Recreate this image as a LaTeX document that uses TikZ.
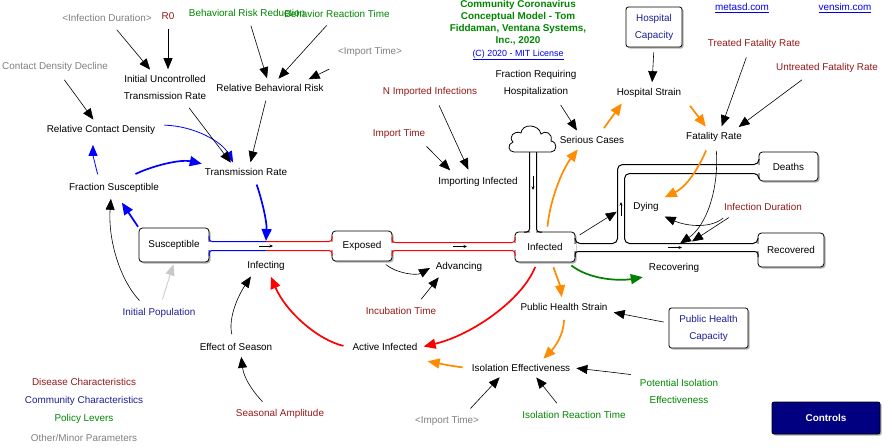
\documentclass[tikz,border=0pt]{standalone}
\usepackage{fontspec}
\setmainfont{Liberation Sans}
\usetikzlibrary{arrows.meta,shadows,calc}
\definecolor{dred}{RGB}{150,25,25}
\definecolor{dgreen}{RGB}{0,135,0}
\definecolor{cgreen}{RGB}{0,128,0}
\definecolor{navyt}{RGB}{30,30,150}
\definecolor{grayt}{RGB}{128,128,128}
\definecolor{lgray}{RGB}{200,200,200}
\definecolor{orng}{RGB}{255,140,0}
\definecolor{linkb}{RGB}{0,0,238}
\definecolor{ctrlfill}{RGB}{0,0,128}
\begin{document}
\begin{tikzpicture}[x=1pt,y=-1pt,
  lbl/.style={font=\fontsize{9.9}{11}\selectfont, inner sep=4pt},
  two/.style={inner sep=4pt, align=center, font=\fontsize{9.9}{17}\selectfont},
  ttl/.style={inner sep=0pt, align=center, text=dgreen, font=\bfseries\fontsize{9.9}{12}\selectfont},
  stock/.style={draw, fill=white, line width=0.8pt, rounded corners=3.5pt, inner sep=0pt,
     drop shadow={shadow xshift=1.6pt, shadow yshift=-1.6pt, fill=black!30, opacity=1},
     font=\fontsize{9.9}{11}\selectfont},
  capbox/.style={stock, rounded corners=2.5pt, align=center, font=\fontsize{9.9}{17}\selectfont},
  ctrl/.style={draw, fill=ctrlfill, line width=0.8pt, rounded corners=2pt, inner sep=0pt,
     drop shadow={shadow xshift=1.6pt, shadow yshift=-1.6pt, fill=black!30, opacity=1},
     text=white, font=\bfseries\fontsize{9.9}{11}\selectfont},
  conn/.style={-{Triangle[length=11pt,width=9pt]}, line width=0.6pt, shorten <=5pt, shorten >=2pt},
  thk/.style={-{Triangle[length=12pt,width=10pt]}, line width=1.7pt, shorten <=5pt, shorten >=2pt},
  valve/.style={-{Stealth[length=3.5pt,width=3pt]}, line width=0.6pt},
  pipe/.style={line width=1pt, rounded corners=3pt}
]
\fill[white] (0,0) rectangle (893,447);
\useasboundingbox (0,0) rectangle (893,447);

% ---------- text nodes ----------
\node[lbl,text=grayt] (infdurG) at (107,18) {<Infection Duration>};
\node[lbl,text=dred] (r0) at (168,16) {R0};
\node[lbl,text=dgreen] (brr) at (247,13) {Behavioral Risk Reduction};
\node[lbl,text=dgreen] (brt) at (337,14) {Behavior Reaction Time};
\node[lbl,text=grayt] (impG1) at (370,52) {<Import Time>};
\node[lbl,text=grayt] (cdd) at (55,67) {Contact Density Decline};
\node[two] (iutr) at (165,87.5) {Initial Uncontrolled\\Transmission Rate};
\node[lbl] (rbr) at (270,88) {Relative Behavioral Risk};
\node[lbl] (rcd) at (101,130) {Relative Contact Density};
\node[lbl] (tr) at (246,172) {Transmission Rate};
\node[lbl] (fs) at (114,188) {Fraction Susceptible};
\node[lbl,text=dred] (nii) at (430,92) {N Imported Infections};
\node[lbl,text=dred] (imt) at (399,134) {Import Time};
\node[lbl] (impinf) at (478,182) {Importing Infected};
\node[ttl] (title) at (518,23) {Community Coronavirus\\Conceptual Model - Tom\\Fiddaman, Ventana Systems,\\Inc., 2020};
\node[lbl,text=linkb,font=\fontsize{8.9}{10}\selectfont] (mit) at (518,55) {\underline{(C) 2020 - MIT License}};
\node[two] (frh) at (536,83.5) {Fraction Requiring\\Hospitalization};
\node[capbox,text=navyt,minimum width=56pt,minimum height=40pt] (hcap) at (654,27) {Hospital\\Capacity};
\node[lbl,text=linkb] (metasd) at (742,8) {\underline{metasd.com}};
\node[lbl,text=linkb] (vensim) at (845,8) {\underline{vensim.com}};
\node[lbl,text=dred] (tfr) at (754,44) {Treated Fatality Rate};
\node[lbl,text=dred] (ufr) at (827,68) {Untreated Fatality Rate};
\node[lbl] (hs) at (649,93) {Hospital Strain};
\node[lbl] (sc) at (592,140) {Serious Cases};
\node[lbl] (fr) at (714,137) {Fatality Rate};

% ---------- stocks ----------
\node[stock,minimum width=70pt,minimum height=34pt] (susc) at (174,245) {Susceptible};
\node[stock,minimum width=60pt,minimum height=30pt] (exposed) at (362,246) {Exposed};
\node[stock,minimum width=60pt,minimum height=30pt] (infected) at (545,247) {Infected};
\node[stock,minimum width=59pt,minimum height=29pt] (deaths) at (788.5,166.5) {Deaths};
\node[stock,minimum width=66pt,minimum height=34pt] (recovered) at (791,250) {Recovered};

\node[lbl] (infecting) at (266,266) {Infecting};
\node[lbl] (advancing) at (459,267) {Advancing};
\node[lbl,text=dred] (incub) at (401,311) {Incubation Time};
\node[lbl,text=navyt] (initpop) at (159,313) {Initial Population};
\node[lbl] (eos) at (236,347) {Effect of Season};
\node[lbl] (ai) at (385,347) {Active Infected};
\node[lbl,text=dred] (sa) at (280,414) {Seasonal Amplitude};
\node[lbl] (ie) at (521,368) {Isolation Effectiveness};
\node[lbl,text=grayt] (impG2) at (447,421) {<Import Time>};
\node[lbl,text=dgreen] (irt) at (574,415) {Isolation Reaction Time};
\node[lbl] (phs) at (564,307) {Public Health Strain};
\node[capbox,text=navyt,minimum width=79pt,minimum height=40pt] (phc) at (708.5,328) {Public Health\\Capacity};
\node[two,text=dgreen] (pie) at (679,391.5) {Potential Isolation\\Effectiveness};
\node[ctrl,minimum width=108pt,minimum height=32pt] (controls) at (826,418) {Controls};
\node[lbl] (dying) at (646,207) {Dying};
\node[lbl,text=dred] (infdur) at (763,207) {Infection Duration};
\node[lbl] (recovering) at (674,268) {Recovering};

% legend
\node[lbl,text=dred] (lg1) at (84,382) {Disease Characteristics};
\node[lbl,text=navyt] (lg2) at (84,401) {Community Characteristics};
\node[lbl,text=dgreen] (lg3) at (84,419) {Policy Levers};
\node[lbl,text=grayt] (lg4) at (84,438) {Other/Minor Parameters};

% ---------- pipes ----------
% Susceptible -> Exposed
\fill[white] (208,242.1) rectangle (333,249.9);
\draw[pipe,blue] (209,236) -- (209,241.5) -- (266,241.5);
\draw[pipe,red] (266,241.5) -- (332,241.5) -- (332,236);
\draw[pipe,blue] (209,256) -- (209,250.5) -- (266,250.5);
\draw[pipe,red] (266,250.5) -- (332,250.5) -- (332,256);
% Exposed -> Infected
\fill[white] (391,243.1) rectangle (516,249.9);
\draw[pipe,red] (392,237) -- (392,242.5) -- (515,242.5) -- (515,237);
\draw[pipe,red] (392,256) -- (392,250.5) -- (515,250.5) -- (515,256);
% cloud -> Infected
\fill[white] (530.1,148) rectangle (535.9,233);
\draw[pipe] (529.5,148) -- (529.5,232) -- (524,232);
\draw[pipe] (536.5,148) -- (536.5,232) -- (542,232);
% Infected -> Deaths / Recovered
\fill[white] (574,244.1) rectangle (576,250.9);
\fill[white] (758,165.1) rectangle (760,172.9);
\fill[white] (757,244.1) rectangle (759,250.9);
\draw[line width=1pt,rounded corners=5pt] (575,238) -- (575,243.5) -- (617.5,243.5) -- (617.5,164.5) -- (759,164.5) -- (759,159);
\draw[pipe] (575,257) -- (575,251.5) -- (758,251.5) -- (758,257);
\draw[line width=1pt,rounded corners=5pt] (759,179) -- (759,173.5) -- (624.5,173.5) -- (624.5,243.5) -- (758,243.5) -- (758,238);

% cloud (source)
\draw[line width=0.8pt, fill=white]
  (514,152) -- (551,152)
  .. controls (557,152) and (558,142) .. (551,141)
  .. controls (553,133) and (545,130) .. (541,134)
  .. controls (539,124) and (522,123) .. (521,133)
  .. controls (514,130) and (508,137) .. (513,142)
  .. controls (507,144) and (508,152) .. (514,152) -- cycle;

% valves
\coordinate (vinf) at (266,246);
\coordinate (vadv) at (460,246.5);
\coordinate (vimp) at (533,183);
\coordinate (vdy) at (621,209);
\coordinate (vrec) at (675,247.5);
\draw[valve] ([xshift=-7pt]vinf) -- ([xshift=7pt]vinf);
\draw[valve] ([xshift=-7pt]vadv) -- ([xshift=7pt]vadv);
\draw[valve] ([yshift=7pt]vimp) -- ([yshift=-7pt]vimp);
\draw[valve] ([yshift=-7pt]vdy) -- ([yshift=7pt]vdy);
\draw[valve] ([xshift=-7pt]vrec) -- ([xshift=7pt]vrec);

% ---------- connectors ----------
\draw[conn] (infdurG) -- (iutr);
\draw[conn] (r0.south) -- (r0.south |- iutr.north);
\draw[conn] (brr) -- (rbr);
\draw[conn] (brt) -- (rbr);
\draw[conn] ([yshift=-6pt]impG1.south west) -- ([xshift=-21pt]rbr.north east);
\draw[conn] (cdd) -- (rcd);
\draw[conn,blue,line width=0.8pt] ([yshift=5pt]rcd.east) .. controls (195,126) and (222,142) .. ([xshift=-12pt]tr.north);
\draw[conn] ([xshift=21pt]iutr.south) -- ([xshift=-14pt]tr.north);
\draw[conn] ([xshift=-3pt]rbr.south) -- ([xshift=4pt]tr.north);
\draw[thk,blue] ([xshift=17pt,yshift=3pt]fs.north) .. controls (152,166) and (180,159) .. ([xshift=3pt]tr.north west);
\draw[conn,blue,line width=0.8pt,shorten >=6pt] ([xshift=-15pt]fs.north) .. controls (96,168) and (93,155) .. ([xshift=-8pt]rcd.south);
\draw[thk,blue,shorten >=0pt] ([xshift=9pt]tr.south) .. controls (262,200) and (267,222) .. ([yshift=5pt]vinf);
\draw[thk,blue,shorten <=1pt,shorten >=7pt] (susc.north west) -- ([xshift=4pt]fs.south);
\draw[conn] ([xshift=-16pt]initpop.north) .. controls (120,280) and (108,240) .. ([xshift=-3pt]fs.south);
\draw[conn,lgray,line width=0.8pt] ([xshift=2pt]initpop.north) -- (susc.south);
\draw[conn] ([xshift=-3pt]eos.north) .. controls (228,318) and (238,296) .. ([xshift=-14pt]infecting.south);
\draw[conn] ([xshift=-14pt]sa.north) .. controls (256,395) and (244,380) .. ([xshift=5pt]eos.south);
\draw[thk,red] (ai.west) .. controls (318,340) and (286,312) .. ([xshift=4pt]infecting.south);
\draw[thk,red] ([xshift=-8pt]infected.south) .. controls (522,300) and (472,335) .. (ai.east);
\draw[conn] ([xshift=20pt]exposed.south) .. controls (396,273) and (416,276) .. (advancing.west);
\draw[conn] ([xshift=17pt]incub.north) -- ([xshift=-19pt]advancing.south);
\draw[thk,orng] (ie.west) .. controls (452,366) .. ($(ai.south east)+(4,6)$);
\draw[conn] ([xshift=20pt]impG2.north) -- ([xshift=-20pt]ie.south);
\draw[conn] ([xshift=-14pt]irt.north) -- ([xshift=14pt]ie.south);
\draw[conn] (pie.north west) .. controls (610,372) .. (ie.east);
\draw[conn] ([yshift=5pt]phc.west) -- ([yshift=-5pt]phs.east);
\draw[thk,orng] (phs.south) .. controls (564,335) and (554,348) .. ([xshift=21pt]ie.north);
\draw[thk,orng] ([xshift=7pt]infected.south) .. controls (556,275) and (560,285) .. ([xshift=-2pt]phs.north);
\draw[thk,cgreen] ([xshift=-8pt]infected.south east) .. controls (590,280) and (620,281) .. (recovering.south west);
\draw[conn,shorten >=5pt] ([yshift=-6pt]infected.north east) -- (vdy);
\draw[thk,orng] ([xshift=2pt]infected.north) .. controls (550,200) and (562,170) .. ([xshift=-13pt]sc.south);
\draw[thk,orng] ([xshift=9pt]sc.north) -- ([xshift=-26pt]hs.south);
\draw[conn] ([xshift=22pt]frh.south) -- ([xshift=-14pt]sc.north);
\draw[conn] (hcap.south) -- ([xshift=3pt]hs.north);
\draw[thk,orng] ([xshift=38pt]hs.south) -- ([xshift=-7pt]fr.north);
\draw[conn] ([xshift=-6pt]tfr.south) -- ([xshift=7pt]fr.north);
\draw[conn] ([xshift=-21pt]ufr.south) -- ([xshift=23pt]fr.north);
\draw[thk,orng] ([xshift=-6pt]fr.south) .. controls (700,165) and (688,186) .. (dying.north east);
\draw[conn,shorten >=0pt] ([xshift=2pt]fr.south) .. controls (719,190) and (706,226) .. ([xshift=5pt,yshift=4pt]vrec);
\draw[conn] ([xshift=-36pt]infdur.south) .. controls (710,229) and (686,226) .. (dying.south east);
\draw[conn,shorten >=0pt] ([xshift=-30pt]infdur.south) -- ([xshift=17pt,yshift=6pt]vrec);
\draw[conn,shorten >=4pt] ([xshift=7pt]nii.south) -- ([xshift=-8pt]impinf.north);
\draw[conn,shorten >=4pt] ([xshift=24pt]imt.south) -- ([xshift=-25pt]impinf.north);
\end{tikzpicture}
\end{document}
